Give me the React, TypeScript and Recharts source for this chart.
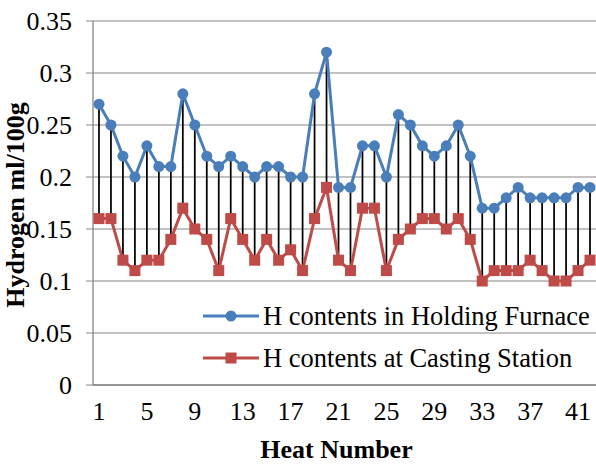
import React from 'react';
import { ComposedChart, Line, XAxis, YAxis, CartesianGrid, Legend, ErrorBar, Label } from 'recharts';

const holdingFurnace = [0.27, 0.25, 0.22, 0.20, 0.23, 0.21, 0.21, 0.28, 0.25, 0.22, 0.21, 0.22, 0.21, 0.20, 0.21, 0.21, 0.20, 0.20, 0.28, 0.32, 0.19, 0.19, 0.23, 0.23, 0.20, 0.26, 0.25, 0.23, 0.22, 0.23, 0.25, 0.22, 0.17, 0.17, 0.18, 0.19, 0.18, 0.18, 0.18, 0.18, 0.19, 0.19];
const castingStation = [0.16, 0.16, 0.12, 0.11, 0.12, 0.12, 0.14, 0.17, 0.15, 0.14, 0.11, 0.16, 0.14, 0.12, 0.14, 0.12, 0.13, 0.11, 0.16, 0.19, 0.12, 0.11, 0.17, 0.17, 0.11, 0.14, 0.15, 0.16, 0.16, 0.15, 0.16, 0.14, 0.10, 0.11, 0.11, 0.11, 0.12, 0.11, 0.10, 0.10, 0.11, 0.12];
const heatNumbers = holdingFurnace.map((_, i) => i + 1);

const xLabelTicks = [1, 5, 9, 13, 17, 21, 25, 29, 33, 37, 41];
const xBoundaryTicks = Array.from({ length: 43 }, (_, i) => i + 0.5);
const yMajorTicks = [0, 0.05, 0.1, 0.15, 0.2, 0.25, 0.3, 0.35];
const yMinorTicks = Array.from({ length: 36 }, (_, i) => i / 100);

const SERIES_HF = 'H contents in Holding Furnace';
const SERIES_CS = 'H contents at Casting Station';
const BLUE = '#4A7EBB';
const RED = '#BE4B48';
const GRAY = '#868686';
const FONT = '"Liberation Serif", "Times New Roman", serif';

const data = heatNumbers.map((h, i) => ({
  heat: h,
  hf: holdingFurnace[i],
  cs: castingStation[i],
  drop: [holdingFurnace[i] - castingStation[i], 0],
}));

const SquareDot = (p: any) => {
  if (p.cx == null || p.cy == null) return null;
  return <rect key={p.key ?? p.index} x={p.cx - 5.5} y={p.cy - 5.5} width={11} height={11} fill={RED} stroke={RED} strokeWidth={0} />;
};

const legendItems = [
  { name: SERIES_HF, color: BLUE, marker: 'circle' },
  { name: SERIES_CS, color: RED, marker: 'square' },
];

const renderLegend = () => (
  <div style={{ fontFamily: FONT, fontSize: 26.5, color: '#000' }}>
    {legendItems.map((it) => (
      <div key={it.name} style={{ display: 'flex', alignItems: 'center', height: 42, whiteSpace: 'nowrap' }}>
        <svg width={56} height={14} style={{ display: 'block' }}>
          <line x1={0} y1={7} x2={56} y2={7} stroke={it.color} strokeWidth={3} />
          {it.marker === 'circle' ? (
            <circle cx={28} cy={7} r={5.5} fill={it.color} />
          ) : (
            <rect x={22.5} y={1.5} width={11} height={11} fill={it.color} />
          )}
        </svg>
        <span style={{ marginLeft: 4 }}>{it.name}</span>
      </div>
    ))}
  </div>
);

const tickStyle = { fontFamily: FONT, fontSize: 26, fill: '#000' };

export default function App() {
  return (
    <div style={{ position: 'absolute', left: 0, top: 0, width: 596, height: 464, background: '#fff' }}>
      <ComposedChart width={596} height={464} data={data} margin={{ top: 21, right: 0, left: 0, bottom: 0 }}>
        <YAxis
          yAxisId="minor"
          type="number"
          domain={[0, 0.35]}
          ticks={yMinorTicks}
          interval={0}
          width={0}
          tick={false}
          tickSize={5}
          axisLine={false}
          tickLine={{ stroke: GRAY, strokeWidth: 1 }}
        />
        <YAxis
          yAxisId="main"
          type="number"
          domain={[0, 0.35]}
          ticks={yMajorTicks}
          interval={0}
          width={93}
          tickSize={7}
          tickMargin={14}
          tick={tickStyle}
          tickFormatter={(v: number) => String(v)}
          axisLine={{ stroke: GRAY, strokeWidth: 1.3 }}
          tickLine={{ stroke: GRAY, strokeWidth: 1 }}
        >
          <Label
            content={(props: any) => {
              const vb = props.viewBox || {};
              const cy = (vb.y ?? 21) + (vb.height ?? 364) / 2 + 2;
              const x = 24;
              return (
                <text
                  x={x}
                  y={cy}
                  transform={`rotate(-90, ${x}, ${cy})`}
                  textAnchor="middle"
                  fontFamily={FONT}
                  fontWeight="bold"
                  fontSize={26}
                  fill="#000"
                >
                  Hydrogen ml/100g
                </text>
              );
            }}
          />
        </YAxis>
        <XAxis
          xAxisId="ticks"
          type="number"
          dataKey="heat"
          domain={[0.5, 42.5]}
          ticks={xBoundaryTicks}
          interval={0}
          height={0}
          tick={false}
          tickSize={7}
          axisLine={false}
          tickLine={{ stroke: GRAY, strokeWidth: 1 }}
        />
        <XAxis
          xAxisId="lab"
          type="number"
          dataKey="heat"
          domain={[0.5, 42.5]}
          ticks={xLabelTicks}
          interval={0}
          height={79}
          tickSize={7}
          tickMargin={10}
          tick={tickStyle}
          tickLine={false}
          axisLine={{ stroke: GRAY, strokeWidth: 1.3 }}
        >
          <Label
            content={(props: any) => {
              const vb = props.viewBox || {};
              const cx = (vb.x ?? 93) + (vb.width ?? 503) / 2 - 8;
              const y = (vb.y ?? 385) + (vb.height ?? 79) - 6;
              return (
                <text x={cx} y={y} textAnchor="middle" fontFamily={FONT} fontWeight="bold" fontSize={26} fill="#000">
                  Heat Number
                </text>
              );
            }}
          />
        </XAxis>
        <CartesianGrid xAxisId="lab" yAxisId="main" vertical={false} stroke={GRAY} strokeWidth={1.2} />
        <Legend
          layout="horizontal"
          verticalAlign="middle"
          align="center"
          content={renderLegend}
          wrapperStyle={{ position: 'absolute', left: 203, top: 295, width: 393, height: 84 }}
        />
        <Line
          xAxisId="lab"
          yAxisId="main"
          type="linear"
          dataKey="hf"
          name={SERIES_HF}
          stroke={BLUE}
          strokeWidth={3}
          dot={{ r: 5.5, fill: BLUE, stroke: BLUE, strokeWidth: 0 }}
          activeDot={false}
          isAnimationActive={false}
        >
          <ErrorBar dataKey="drop" direction="y" width={0} stroke="#000" strokeWidth={1.75} isAnimationActive={false} />
        </Line>
        <Line
          xAxisId="lab"
          yAxisId="main"
          type="linear"
          dataKey="cs"
          name={SERIES_CS}
          stroke={RED}
          strokeWidth={3}
          dot={<SquareDot />}
          activeDot={false}
          isAnimationActive={false}
        />
      </ComposedChart>
    </div>
  );
}
